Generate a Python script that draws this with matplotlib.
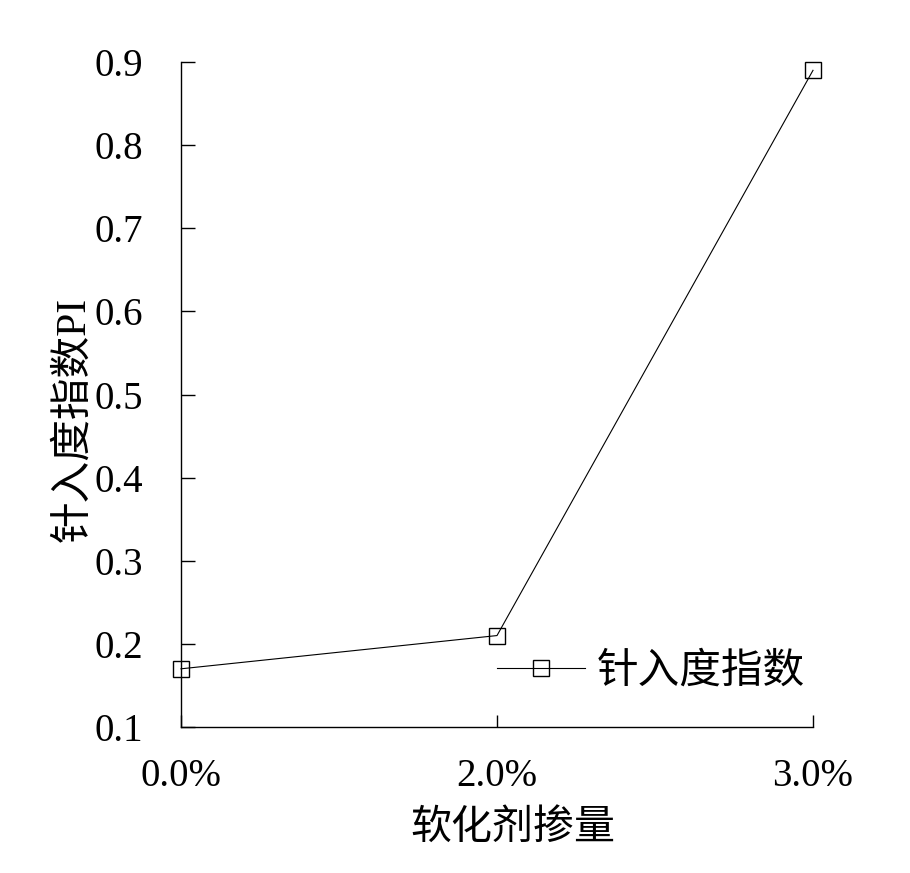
import matplotlib
matplotlib.use('Agg')
import matplotlib.pyplot as plt

# data
dosage = ['0.0%', '2.0%', '3.0%']
pi_values = [0.17, 0.21, 0.89]
y_ticks = [0.1, 0.2, 0.3, 0.4, 0.5, 0.6, 0.7, 0.8, 0.9]

plt.rcParams['font.family'] = ['Liberation Serif', 'Noto Sans CJK SC']
plt.rcParams['axes.unicode_minus'] = False

fig = plt.figure(figsize=(9.1, 8.73), dpi=100)
ax = fig.add_axes([181 / 910, 1 - 727 / 873, 632 / 910, 665 / 873])

x = list(range(len(dosage)))
ax.plot(x, pi_values, color='black', linewidth=0.8, marker='s', markersize=12,
        markerfacecolor='none', markeredgecolor='black', markeredgewidth=1.0,
        label='针入度指数', clip_on=False)

ax.set_xlim(0, 2)
ax.set_ylim(0.1, 0.9)
ax.set_xticks(x)
ax.set_xticklabels(dosage)
ax.set_yticks(y_ticks)
ax.set_yticklabels([f'{v:.1f}' for v in y_ticks])

for side in ('top', 'right'):
    ax.spines[side].set_visible(False)
for side in ('left', 'bottom'):
    ax.spines[side].set_linewidth(1.0)

ax.tick_params(axis='y', direction='in', length=10, width=1.0, labelsize=28, pad=27)
ax.tick_params(axis='x', direction='in', length=9, width=1.0, labelsize=28, pad=22)

ax.set_xlabel('软化剂掺量', fontsize=29.5, family=['Noto Sans CJK SC'])
ax.xaxis.set_label_coords(0.525, -0.122)
ax.set_ylabel('针入度指数PI', fontsize=30)
ax.yaxis.set_label_coords(-0.138, 0.462)

leg = ax.legend(loc='center left', bbox_to_anchor=(0.5, 0.084), frameon=False,
                borderaxespad=0, borderpad=0, handlelength=2.1, handletextpad=0.3,
                prop={'family': 'Noto Sans CJK SC', 'size': 30})

fig.savefig('out.png', dpi=100)
